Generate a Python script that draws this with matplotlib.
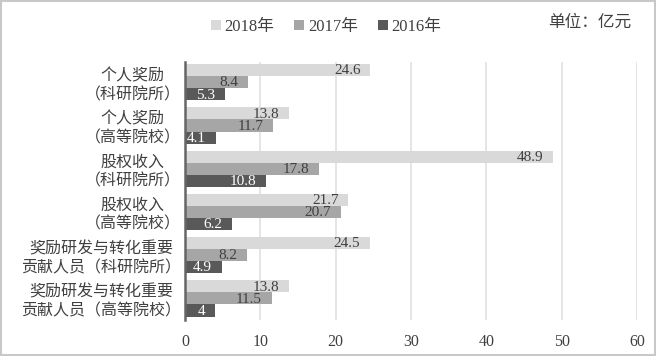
import numpy as np
import matplotlib.pyplot as plt
from matplotlib.patches import Rectangle

plt.rcParams['font.family'] = ['Liberation Serif', 'Noto Sans CJK SC']

# 数据（单位：亿元）
categorias = ['个人奖励\n（科研院所）', '个人奖励\n（高等院校）', '股权收入\n（科研院所）',
              '股权收入\n（高等院校）', '奖励研发与转化重要\n贡献人员（科研院所）',
              '奖励研发与转化重要\n贡献人员（高等院校）']
v2018 = [24.6, 13.8, 48.9, 21.7, 24.5, 13.8]
v2017 = [8.4, 11.7, 17.8, 20.7, 8.2, 11.5]
v2016 = [5.3, 4.1, 10.8, 6.2, 4.9, 4]
series = [('2018年', v2018, '#d9d9d9', '#404040'),
          ('2017年', v2017, '#a6a6a6', '#404040'),
          ('2016年', v2016, '#595959', 'white')]

fig = plt.figure(figsize=(6.56, 3.56), dpi=100)
ax = fig.add_axes([0.282, 0.101, 0.689, 0.725])

y = np.arange(len(categorias))
h = 0.28
for k, (nombre, vals, color, tcolor) in enumerate(series):
    pos = y + (k - 1) * h
    ax.barh(pos, vals, height=h, color=color, label=nombre, zorder=2)
    for p, v in zip(pos, vals):
        ax.annotate(f'{v:g}', (v, p), xytext=(-7, -0.5), textcoords='offset points',
                    ha='right', va='center', fontsize=11, color=tcolor, zorder=3)

ax.set_xlim(0, 60)
ax.set_ylim(5.5, -0.47)
ax.set_xticks(range(0, 61, 10))
ax.set_yticks(y)
ax.set_yticklabels(categorias, fontsize=11.5, color='#404040', linespacing=1.25,
                   multialignment='center')
ax.tick_params(axis='both', length=0, labelsize=11.5, colors='#404040')
ax.tick_params(axis='x', pad=10)
ax.tick_params(axis='y', pad=3)
ax.grid(axis='x', color='#e0e0e0', linewidth=1.2, zorder=0)
for s in ['top', 'right', 'bottom']:
    ax.spines[s].set_visible(False)
ax.spines['left'].set_color('#666666')
ax.spines['left'].set_linewidth(1.8)
ax.spines['left'].set_zorder(4)

fig.legend(loc='center', bbox_to_anchor=(0.497, 0.925), ncol=3, frameon=False,
           fontsize=12, handlelength=0.6, handleheight=0.6, handletextpad=0.2,
           columnspacing=1.2, labelcolor='#404040')
fig.text(0.963, 0.935, '单位：亿元', ha='right', va='center', fontsize=12, color='#404040')

fig.patches.append(Rectangle((0.002, 0.003), 0.996, 0.994, transform=fig.transFigure,
                             fill=False, edgecolor='#c8c8c8', linewidth=1.5))

fig.savefig('out.png', dpi=100)
